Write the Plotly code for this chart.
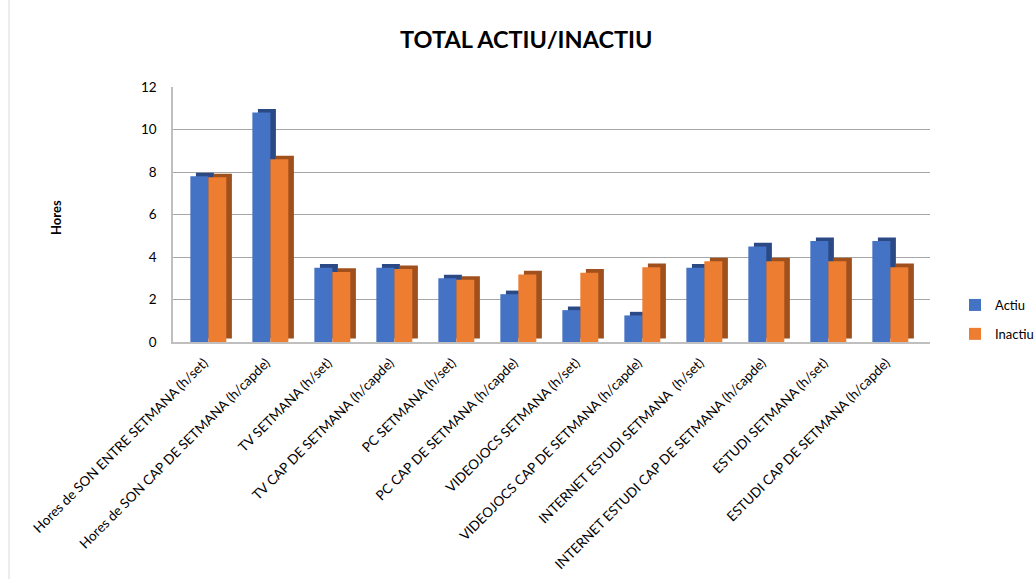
import plotly.graph_objects as go

categories = [
    "Hores de SON ENTRE SETMANA (h/set)",
    "Hores de SON CAP DE SETMANA (h/capde)",
    "TV SETMANA (h/set)",
    "TV CAP DE SETMANA (h/capde)",
    "PC SETMANA (h/set)",
    "PC CAP DE SETMANA (h/capde)",
    "VIDEOJOCS SETMANA (h/set)",
    "VIDEOJOCS CAP DE SETMANA (h/capde)",
    "INTERNET ESTUDI SETMANA  (h/set)",
    "INTERNET ESTUDI CAP DE SETMANA (h/capde)",
    "ESTUDI SETMANA (h/set)",
    "ESTUDI CAP DE SETMANA (h/capde)",
]
actiu = [7.8, 10.8, 3.5, 3.5, 3.0, 2.25, 1.5, 1.25, 3.5, 4.5, 4.75, 4.75]
inactiu = [7.75, 8.6, 3.3, 3.43, 2.93, 3.18, 3.26, 3.52, 3.8, 3.8, 3.8, 3.52]
y_ticks = [0, 2, 4, 6, 8, 10, 12]

BLUE, BLUE_DARK = "#4472C4", "#2B4A85"
ORANGE, ORANGE_DARK = "#ED7D31", "#A0501C"
W = 0.29
OFF_A, OFF_I = -0.22, 0.07
DX, DY = 0.09, 0.17

fig = go.Figure()
# depth (side/top) faces
fig.add_bar(x=categories, y=actiu, base=DY, width=W, offset=OFF_A + DX,
            marker=dict(color=BLUE_DARK, line=dict(width=0)), showlegend=False, hoverinfo="skip")
fig.add_bar(x=categories, y=inactiu, base=DY, width=W, offset=OFF_I + DX,
            marker=dict(color=ORANGE_DARK, line=dict(width=0)), showlegend=False, hoverinfo="skip")
# front faces
fig.add_bar(x=categories, y=actiu, width=W, offset=OFF_A, name="Actiu", legendgroup="a",
            marker=dict(color=BLUE, line=dict(width=0)))
fig.add_bar(x=categories, y=inactiu, width=W, offset=OFF_I, name="Inactiu", legendgroup="i",
            marker=dict(color=ORANGE, line=dict(width=0)))

L, R, T, B = 173, 930, 87, 342
fig.update_layout(
    width=1036, height=579,
    barmode="overlay",
    paper_bgcolor="white", plot_bgcolor="white",
    margin=dict(l=L, r=1036 - R, t=T, b=579 - B, autoexpand=False),
    font=dict(family="Lato, Open Sans, sans-serif", color="#000000", size=12),
    title=dict(text="<b>TOTAL ACTIU/INACTIU</b>", x=0.508, xanchor="center",
               y=1 - 40 / 579, yanchor="middle", font=dict(size=23.5, color="#000000")),
    legend=dict(x=(955 - L) / (R - L), y=(B - 290) / (B - T), xanchor="left", yanchor="top",
                font=dict(size=13, color="#000000"), itemwidth=30, tracegroupgap=9,
                bgcolor="rgba(0,0,0,0)"),
    xaxis=dict(range=[-0.5, 11.71], tickangle=-45, showgrid=False, ticks="",
               showline=True, linecolor="#BFBFBF", linewidth=1.5, ticklabelstandoff=6,
               tickfont=dict(size=13.5, color="#000000")),
    yaxis=dict(range=[0, 12], tickvals=y_ticks, showgrid=True, gridcolor="#A6A6A6",
               gridwidth=1.3, zeroline=False, showline=True, linecolor="#BFBFBF",
               linewidth=1.5, ticks="", ticklabelstandoff=12,
               tickfont=dict(size=13.5, color="#000000")),
    annotations=[dict(text="<b>Hores</b>", xref="paper", yref="paper",
                      x=(56 - L) / (R - L), y=(B - 218) / (B - T), textangle=-90,
                      xanchor="center", yanchor="middle",
                      showarrow=False, font=dict(size=13, color="#000000"))],
    shapes=[dict(type="line", xref="paper", yref="paper",
                 x0=(9 - L) / (R - L), x1=(9 - L) / (R - L),
                 y0=(B - 0) / (B - T), y1=(B - 579) / (B - T),
                 line=dict(color="#D9D9D9", width=1))],
)

fig.write_html("out.html")
